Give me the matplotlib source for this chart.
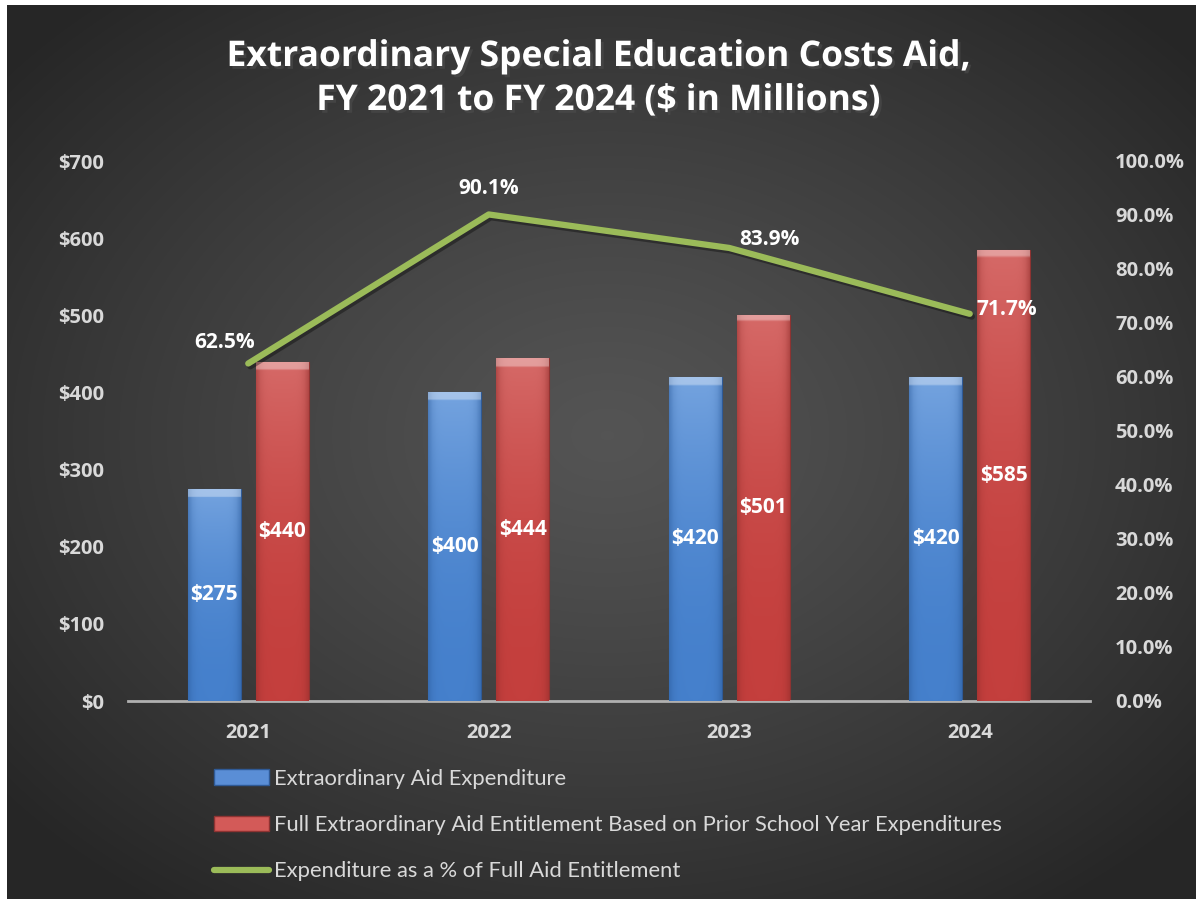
import numpy as np
import matplotlib
matplotlib.use("Agg")
import matplotlib.pyplot as plt
import matplotlib.patheffects as pe
from matplotlib.patches import Patch
from matplotlib.lines import Line2D
from matplotlib.ticker import FuncFormatter, MultipleLocator

plt.rcParams['font.family'] = ['Open Sans', 'DejaVu Sans']
plt.rcParams['font.weight'] = 'bold'

# data
years = ['2021', '2022', '2023', '2024']
aid_expenditure = [275, 400, 420, 420]
full_entitlement = [440, 444, 501, 585]
pct_of_entitlement = [62.5, 90.1, 83.9, 71.7]

series_names = ['Extraordinary Aid Expenditure',
                'Full Extraordinary Aid Entitlement Based on Prior School Year Expenditures',
                'Expenditure as a % of Full Aid Entitlement']

blue = '#4a7fc8'
red = '#c84a48'
green = '#9bbb59'
tick_col = '#d9d9d9'

W, H = 1196, 899
fig = plt.figure(figsize=(W / 100, H / 100), dpi=100, facecolor='white')

# dark radial background
bg = fig.add_axes([7 / W, 0, (W - 7) / W, (H - 5) / H])
bg.set_axis_off()
yy, xx = np.mgrid[0:H - 5, 0:W - 7]
d = np.sqrt(((xx - 600) / 780.0) ** 2 + ((yy - 430) / 580.0) ** 2)
d = np.clip(d, 0, 1) ** 1.2
c_in, c_out = 0.33, 0.15
val = c_in + (c_out - c_in) * d
bg.imshow(np.dstack([val, val, val]), aspect='auto', extent=[0, 1, 0, 1])
bg.set_xlim(0, 1)
bg.set_ylim(0, 1)

ax = fig.add_axes([128 / W, (H - 701) / H, (1090 - 128) / W, 540 / H])
ax.set_facecolor('none')
x = np.arange(len(years))
bw = 0.22
off = 0.141


def shade_bars(bars, base, light, dark):
    base = np.array(matplotlib.colors.to_rgb(base))
    light = np.array(matplotlib.colors.to_rgb(light))
    dark = np.array(matplotlib.colors.to_rgb(dark))
    for b in bars:
        ny, nx = 120, 40
        t = np.linspace(1, 0, ny)[:, None, None]  # 1 at top
        s = np.linspace(-1, 1, nx)[None, :, None]
        img = base + (light - base) * (t ** 2) * 0.8
        img = img + (dark - img) * (np.abs(s) ** 6) * 0.5
        # bevel highlight at top
        h_px = b.get_height() * 540 / 700
        bevel = max(1, int(ny * 9 / max(h_px, 9)))
        img[:bevel] = img[:bevel] + (1 - img[:bevel]) * 0.35
        img = np.clip(img, 0, 1)
        im = ax.imshow(img, aspect='auto', zorder=3,
                       extent=[b.get_x(), b.get_x() + b.get_width(), 0, b.get_height()])
        im.set_clip_path(b)


bars1 = ax.bar(x - off, aid_expenditure, bw, color=blue, edgecolor='#2f5a96', linewidth=0.8, zorder=2)
bars2 = ax.bar(x + off, full_entitlement, bw, color=red, edgecolor='#8e3332', linewidth=0.8, zorder=2)
shade_bars(bars1, '#4580cc', '#80ace4', '#2a5a9a')
shade_bars(bars2, '#c43f3d', '#da7472', '#8e2c2a')

for bars, vals in [(bars1, aid_expenditure), (bars2, full_entitlement)]:
    for b, v in zip(bars, vals):
        ax.text(b.get_x() + b.get_width() / 2, v / 2, f'${v}', ha='center', va='center',
                color='white', fontsize=15, fontweight='bold', zorder=5)

ax.set_xlim(-0.5, 3.5)
ax.set_ylim(0, 700)
ax.yaxis.set_major_locator(MultipleLocator(100))
ax.yaxis.set_major_formatter(FuncFormatter(lambda v, p: f'${v:.0f}'))
ax.set_xticks(x)
ax.set_xticklabels(years)
ax.tick_params(axis='both', length=0, colors=tick_col, labelsize=14.5)
ax.tick_params(axis='y', pad=17)
ax.tick_params(axis='x', pad=16)
for sp in ['top', 'left', 'right']:
    ax.spines[sp].set_visible(False)
ax.spines['bottom'].set_color('#b0b0b0')
ax.spines['bottom'].set_linewidth(2)

ax2 = ax.twinx()
ax2.set_ylim(0, 100)
ax2.yaxis.set_major_locator(MultipleLocator(10))
ax2.yaxis.set_major_formatter(FuncFormatter(lambda v, p: f'{v:.1f}%'))
ax2.tick_params(axis='y', length=0, colors=tick_col, labelsize=14.5, pad=18)
for sp in ax2.spines.values():
    sp.set_visible(False)

ax2.plot(x, pct_of_entitlement, color=green, lw=4.5, solid_capstyle='round', zorder=4,
         path_effects=[pe.SimpleLineShadow(offset=(1.5, -2), alpha=0.35), pe.Normal()])

label_offsets = [(-17, 15, 'center'), (0, 19, 'center'), (29, 6, 'center'), (5, 3, 'left')]
for xi, v, (dx, dy, ha) in zip(x, pct_of_entitlement, label_offsets):
    ax2.annotate(f'{v:.1f}%', (xi, v), xytext=(dx, dy), textcoords='offset points',
                 ha=ha, va='center', color='white', fontsize=15, fontweight='bold', zorder=6)

title_fx = [pe.SimplePatchShadow(offset=(2, -2), alpha=0.6), pe.Normal()]
fig.text(0.5, 1 - 57 / H, 'Extraordinary Special Education Costs Aid,', ha='center', va='center',
         color='white', fontsize=25.5, fontweight='bold', path_effects=title_fx)
fig.text(0.5, 1 - 101 / H, 'FY 2021 to FY 2024 ($ in Millions)', ha='center', va='center',
         color='white', fontsize=25.5, fontweight='bold', path_effects=title_fx)

handles = [Patch(facecolor='#5a8ed6', edgecolor='#2f5a96'),
           Patch(facecolor='#d35a58', edgecolor='#8e3332'),
           Line2D([], [], color=green, lw=4.5, solid_capstyle='round')]
leg = fig.legend(handles, series_names, loc='upper left', bbox_to_anchor=(205 / W, 1 - 760 / H),
                 frameon=False, prop={'size': 15.8, 'weight': 'normal', 'family': ['Lato', 'DejaVu Sans']},
                 labelcolor=tick_col, handlelength=2.5, handletextpad=0.25, labelspacing=1.2,
                 borderaxespad=0)

fig.savefig('out.png', dpi=100, facecolor='white')
